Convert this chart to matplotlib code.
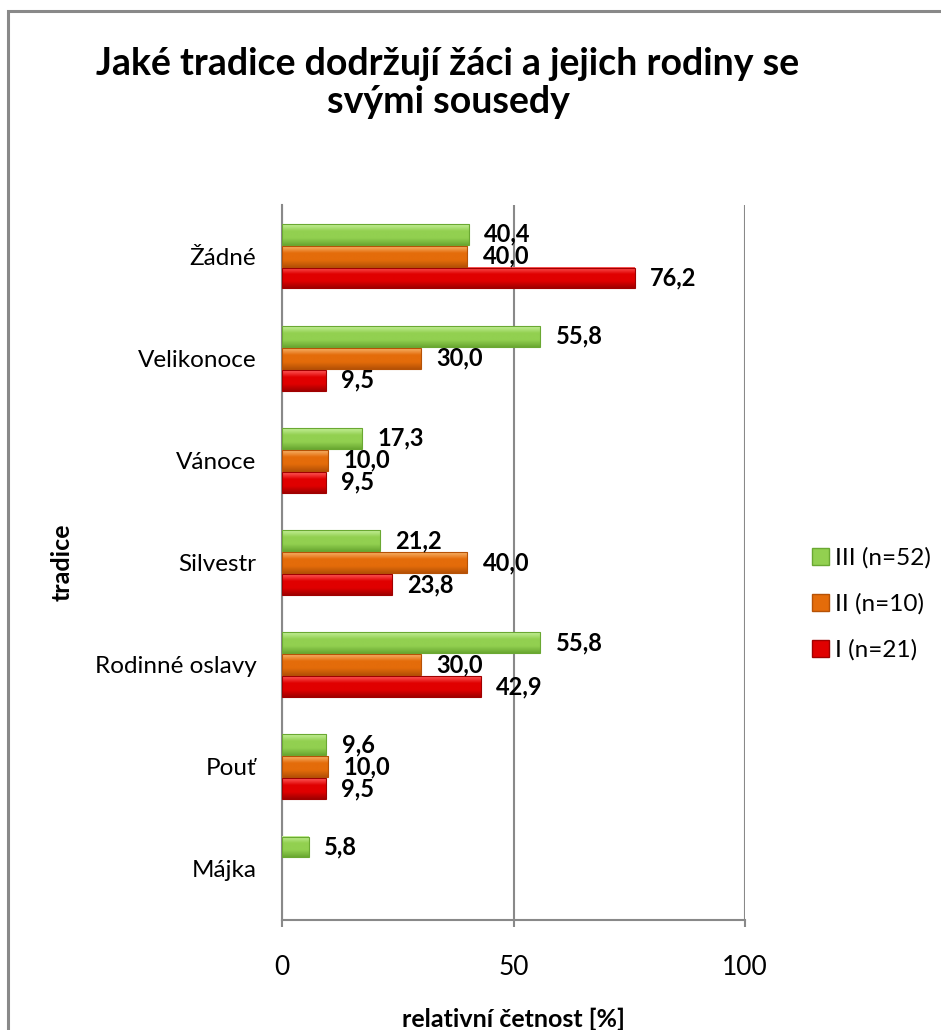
import numpy as np
import matplotlib
matplotlib.use("Agg")
import matplotlib.pyplot as plt
from matplotlib.colors import LinearSegmentedColormap
from matplotlib.patches import Rectangle, Patch

plt.rcParams['font.family'] = ['Lato', 'DejaVu Sans']

categories = ["Žádné", "Velikonoce", "Vánoce", "Silvestr", "Rodinné oslavy", "Pouť", "Májka"]
series_names = ["III (n=52)", "II (n=10)", "I (n=21)"]
vals_III = [40.4, 55.8, 17.3, 21.2, 55.8, 9.6, 5.8]
vals_II = [40.0, 30.0, 10.0, 40.0, 30.0, 10.0, 0.0]
vals_I = [76.2, 9.5, 9.5, 23.8, 42.9, 9.5, 0.0]

# light, base, dark for each series
shades = {
    "III (n=52)": ("#c4ef98", "#92d050", "#6aa832"),
    "II (n=10)": ("#f7b36a", "#e46c0a", "#b65206"),
    "I (n=21)": ("#ff5a5a", "#e00000", "#a00000"),
}

fig = plt.figure(figsize=(9.41, 10.30), dpi=100)
ax = fig.add_axes([282/941, 1 - 920/1030, (745-282)/941, (920-205)/1030])

# outer chart frame
fig.patches.append(Rectangle((8/941, -0.05), 1.1, 1 - 11/1030 + 0.05,
                             transform=fig.transFigure, fill=False,
                             edgecolor="#898989", linewidth=2.2, zorder=0))

h = 0.215
y = np.arange(len(categories))
offsets = [-h, 0, h]
grad = np.linspace(0, 1, 64).reshape(-1, 1)

for name, vals, off in zip(series_names, [vals_III, vals_II, vals_I], offsets):
    light, base, dark = shades[name]
    cmap = LinearSegmentedColormap.from_list(name, [light, base, base, dark])
    for yi, v in zip(y, vals):
        if v <= 0:
            continue
        yc = yi + off
        ax.imshow(grad, extent=[0, v, yc + h/2 * 0.95, yc - h/2 * 0.95],
                  cmap=cmap, aspect='auto', zorder=3, interpolation='bilinear')
        ax.add_patch(Rectangle((0, yc - h/2 * 0.95), v, h * 0.95, fill=False,
                               edgecolor=dark, linewidth=0.8, zorder=4))
        ax.text(v + 3.3, yc, f"{v:.1f}".replace(".", ","), va='center', ha='left',
                fontsize=17, fontweight='bold', color='black', zorder=5)

ax.set_xlim(0, 100)
ax.set_ylim(len(categories) - 0.5, -0.5)
ax.set_xticks([0, 50, 100])
ax.set_xticklabels(["0", "50", "100"], fontsize=19)
ax.set_yticks(y)
ax.set_yticklabels(categories, fontsize=17.5)
ax.tick_params(axis='y', length=0, pad=18.5)
ax.tick_params(axis='x', length=5, color="#898989", width=1.5, pad=20)
ax.grid(axis='x', color="#898989", linewidth=1.5, zorder=0)
ax.set_axisbelow(True)
for s in ['top', 'right']:
    ax.spines[s].set_visible(False)
for s in ['left', 'bottom']:
    ax.spines[s].set_color("#898989")
    ax.spines[s].set_linewidth(1.5)

ax.set_xlabel("relativní četnost [%]", fontsize=18, fontweight='bold', labelpad=20)
fig.text(62/941, 1 - 562/1030, "tradice", rotation=90, ha='center', va='center',
         fontsize=18, fontweight='bold')

fig.text(448/941, 1 - 83/1030, "Jaké tradice dodržují žáci a jejich rodiny se\nsvými sousedy",
         ha='center', va='center', fontsize=27, fontweight='bold', linespacing=1.12)

handles = [Patch(facecolor=shades[n][1], edgecolor=shades[n][2]) for n in series_names]
fig.legend(handles, series_names, loc='center left', bbox_to_anchor=(800/941, 1 - 604/1030),
           frameon=False, fontsize=17.5, handlelength=0.7, handleheight=0.7,
           handletextpad=0.25, labelspacing=1.0, borderpad=0)

fig.savefig("out.png", dpi=100)
